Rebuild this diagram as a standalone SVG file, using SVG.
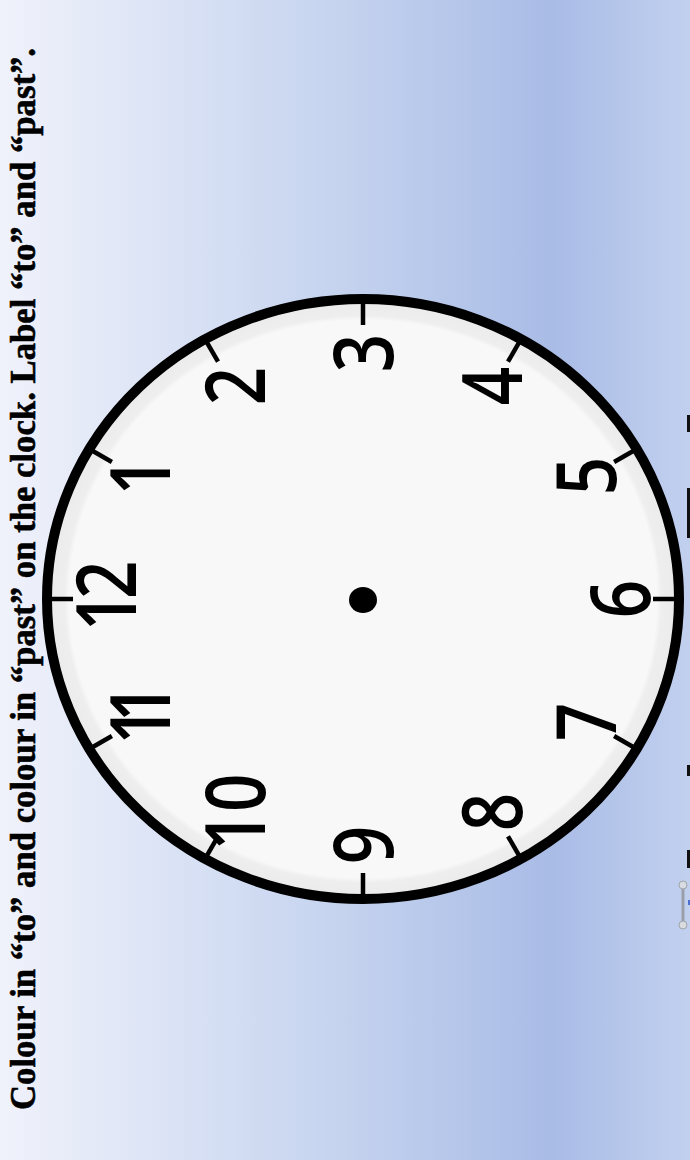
<svg xmlns="http://www.w3.org/2000/svg" width="690" height="1160" viewBox="0 0 690 1160">
<defs>
<linearGradient id="bg" x1="0" y1="0" x2="1" y2="0">
<stop offset="0" stop-color="#f0f2fb"/>
<stop offset="0.45" stop-color="#c9d6f0"/>
<stop offset="0.8" stop-color="#a9bce6"/>
<stop offset="1" stop-color="#c2d0ef"/>
</linearGradient>
<radialGradient id="face" cx="0.5" cy="0.5" r="0.5">
<stop offset="0.93" stop-color="#f8f8f8"/>
<stop offset="0.945" stop-color="#eeeeee"/>
<stop offset="1" stop-color="#ebebeb"/>
</radialGradient>
<style>
.num{font-family:'Open Sans','Liberation Sans',sans-serif;font-weight:600;font-size:84px;fill:#000;text-anchor:middle}
.tick{stroke:#000;stroke-width:4.5;stroke-linecap:butt}
.title{font-family:'Liberation Serif','Times New Roman',serif;font-weight:bold;font-size:36px;fill:#000;stroke:#000;stroke-width:0.6}
</style>
</defs>
<rect x="0" y="0" width="690" height="1160" fill="url(#bg)"/>
<g id="title">
<text class="title" transform="translate(35,1110) rotate(-90)" textLength="1062" lengthAdjust="spacingAndGlyphs">Colour in “to” and colour in “past” on the clock. Label “to” and “past”.</text>
</g>
<g id="clock">
<ellipse cx="363" cy="599" rx="316" ry="300" fill="url(#face)" stroke="#000" stroke-width="10"/>
<g id="ticks">
<line class="tick" x1="47" y1="599" x2="73" y2="599"/>
<line class="tick" x1="89.3" y1="449" x2="111.9" y2="462"/>
<line class="tick" x1="205" y1="339.2" x2="218" y2="361.7"/>
<line class="tick" x1="363" y1="299" x2="363" y2="325"/>
<line class="tick" x1="521" y1="339.2" x2="508" y2="361.7"/>
<line class="tick" x1="636.7" y1="449" x2="614.1" y2="462"/>
<line class="tick" x1="679" y1="599" x2="653" y2="599"/>
<line class="tick" x1="636.7" y1="749" x2="614.1" y2="736"/>
<line class="tick" x1="521" y1="858.8" x2="508" y2="836.3"/>
<line class="tick" x1="363" y1="899" x2="363" y2="873"/>
<line class="tick" x1="205" y1="858.8" x2="218" y2="836.3"/>
<line class="tick" x1="89.3" y1="749" x2="111.9" y2="736"/>
</g>
<g id="numbers">
<text class="num" transform="translate(106,599) rotate(-90) scale(0.8,1)" y="30" letter-spacing="-8">12</text>
<text class="num" transform="translate(140.4,476) rotate(-90) scale(0.8,1)" y="30">1</text>
<text class="num" transform="translate(234.5,386) rotate(-90) scale(0.8,1)" y="30">2</text>
<text class="num" transform="translate(363,353) rotate(-90) scale(0.8,1)" y="30">3</text>
<text class="num" transform="translate(491.5,386) rotate(-90) scale(0.8,1)" y="30">4</text>
<text class="num" transform="translate(585.6,476) rotate(-90) scale(0.8,1)" y="30">5</text>
<text class="num" transform="translate(620,599) rotate(-90) scale(0.8,1)" y="30">6</text>
<text class="num" transform="translate(585.6,722) rotate(-90) scale(0.8,1)" y="30">7</text>
<text class="num" transform="translate(491.5,812) rotate(-90) scale(0.8,1)" y="30">8</text>
<text class="num" transform="translate(363,845) rotate(-90) scale(0.8,1)" y="30">9</text>
<text class="num" transform="translate(234.5,812) rotate(-90) scale(0.8,1)" y="30">10</text>
<text class="num" transform="translate(140.4,722) rotate(-90) scale(0.8,1)" y="30" letter-spacing="-20">11</text>
</g>
<ellipse id="centre" cx="363" cy="600" rx="14" ry="13" fill="#000"/>
</g>
<g id="edge">
<rect x="687" y="415" width="3" height="17" fill="#111"/>
<rect x="687" y="488" width="3" height="50" fill="#111"/>
<rect x="687" y="765" width="3" height="11" fill="#111"/>
<rect x="687" y="850" width="3" height="18" fill="#111"/>
<line x1="683" y1="885" x2="683" y2="925" stroke="#9aa0aa" stroke-width="3"/>
<circle cx="683" cy="885" r="4" fill="#d8dbe0" stroke="#a0a4ab" stroke-width="1"/>
<circle cx="683" cy="925" r="4" fill="#d8dbe0" stroke="#a0a4ab" stroke-width="1"/>
<rect x="688" y="900" width="2" height="5" fill="#4a6fd0"/>
</g>
</svg>
